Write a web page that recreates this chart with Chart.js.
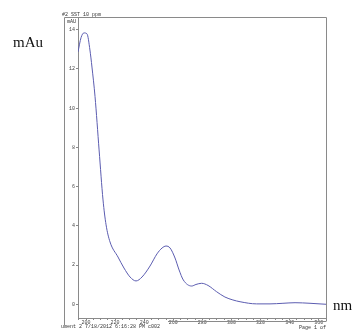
<!DOCTYPE html>
<html>
<head>
<meta charset="utf-8">
<script src="https://cdn.jsdelivr.net/npm/chart.js@4.4.1/dist/chart.umd.min.js"></script>
<style>
  html, body { margin: 0; padding: 0; background: #fff; }
  #wrap { width: 360px; height: 333px; position: relative; }
</style>
</head>
<body>
<div id="wrap"><canvas id="c" width="360" height="333"></canvas></div>
<script>
// spectrum (wavelength nm, absorbance mAU)
const wavelengths = [194.5, 196.6, 198.6, 200.7, 202.7, 204.1, 206.2, 209.0, 211.7, 213.8, 216.5, 222.0,
  226.1, 230.3, 234.4, 238.5, 244.0, 248.8, 252.3, 255.0, 257.8, 261.2, 264.0, 266.9, 272.7, 275.6,
  279.5, 283.9, 289.8, 295.5, 301.0, 305.9, 317.3, 326.5, 335.4, 343.7, 354.0, 365.0];
const absorbance = [12.87, 13.6, 13.84, 13.79, 12.97, 12.1, 10.6, 7.87, 5.32, 4.05, 3.18, 2.41,
  1.85, 1.39, 1.19, 1.39, 1.95, 2.57, 2.87, 2.97, 2.87, 2.36, 1.75, 1.24, 0.93, 1.01,
  1.07, 0.96, 0.64, 0.37, 0.22, 0.13, 0.02, 0.02, 0.05, 0.08, 0.05, 0.0];
const yTicks = [0, 2, 4, 6, 8, 10, 12, 14];
const xLabels = [200, 220, 240, 260, 280, 300, 320, 340, 360];

const tinyFont = { family: "'Liberation Mono', monospace", size: 5 };
const axisColor = "#8a8a8a";

// page furniture from the printout: frame, captions, header/footer
const paperPlugin = {
  id: "paper",
  afterDraw(chart) {
    const { ctx, chartArea } = chart;
    ctx.save();
    ctx.strokeStyle = axisColor;
    ctx.lineWidth = 1;
    ctx.beginPath();
    ctx.moveTo(64.5, chartArea.top - 0.5);
    ctx.lineTo(chartArea.right + 0.5, chartArea.top - 0.5);
    ctx.moveTo(64.5, chartArea.top - 0.5);
    ctx.lineTo(64.5, 325);
    ctx.moveTo(chartArea.right + 0.5, chartArea.top - 0.5);
    ctx.lineTo(chartArea.right + 0.5, chartArea.bottom + 3);
    ctx.moveTo(168, 321.5);
    ctx.lineTo(chartArea.right + 0.5, 321.5);
    ctx.stroke();

    ctx.fillStyle = "#333";
    ctx.font = "5px 'Liberation Mono', monospace";
    ctx.textBaseline = "alphabetic";
    ctx.textAlign = "left";
    ctx.fillText("#2 SST 10 ppm", 62, 16);
    ctx.fillText("mAU", 67, 23);
    ctx.fillText("ument 2 7/18/2012 6:16:28 PM c002", 61, 328);
    ctx.textAlign = "right";
    ctx.fillText("Page 1 of", 326, 329);

    ctx.fillStyle = "#111";
    ctx.font = "15px 'Liberation Serif', serif";
    ctx.textAlign = "left";
    ctx.textBaseline = "middle";
    ctx.fillText("mAu", 13, 43);
    ctx.fillText("nm", 333, 306);
    ctx.restore();
  },
};

new Chart(document.getElementById("c").getContext("2d"), {
  type: "line",
  data: {
    datasets: [
      {
        data: wavelengths.map((nm, i) => ({ x: nm, y: absorbance[i] })),
        borderColor: "#5b5cb0",
        borderWidth: 1,
        pointRadius: 0,
        cubicInterpolationMode: "monotone",
        fill: false,
      },
    ],
  },
  options: {
    responsive: false,
    animation: false,
    layout: { padding: { left: 63, right: 34, top: 18, bottom: 7 } },
    plugins: { legend: { display: false }, tooltip: { enabled: false } },
    scales: {
      x: {
        type: "linear",
        min: 194.5,
        max: 365,
        afterBuildTicks: (scale) => {
          const ticks = [];
          for (let v = 195; v <= 365; v += 5) ticks.push({ value: v });
          scale.ticks = ticks;
        },
        afterFit: (scale) => { scale.height = 8; },
        ticks: {
          autoSkip: false,
          maxRotation: 0,
          padding: 0,
          font: tinyFont,
          color: "#444",
          callback: (v) => (xLabels.includes(v) ? String(v) : ""),
        },
        grid: { drawOnChartArea: false, tickLength: 2, color: axisColor },
        border: { color: axisColor },
      },
      y: {
        min: -0.7,
        max: 14.6,
        afterBuildTicks: (scale) => { scale.ticks = yTicks.map((v) => ({ value: v })); },
        afterFit: (scale) => { scale.width = 15; },
        ticks: { padding: 1, font: tinyFont, color: "#444" },
        grid: { drawOnChartArea: false, tickLength: 2, color: axisColor },
        border: { color: axisColor },
      },
    },
  },
  plugins: [paperPlugin],
});
</script>
</body>
</html>
